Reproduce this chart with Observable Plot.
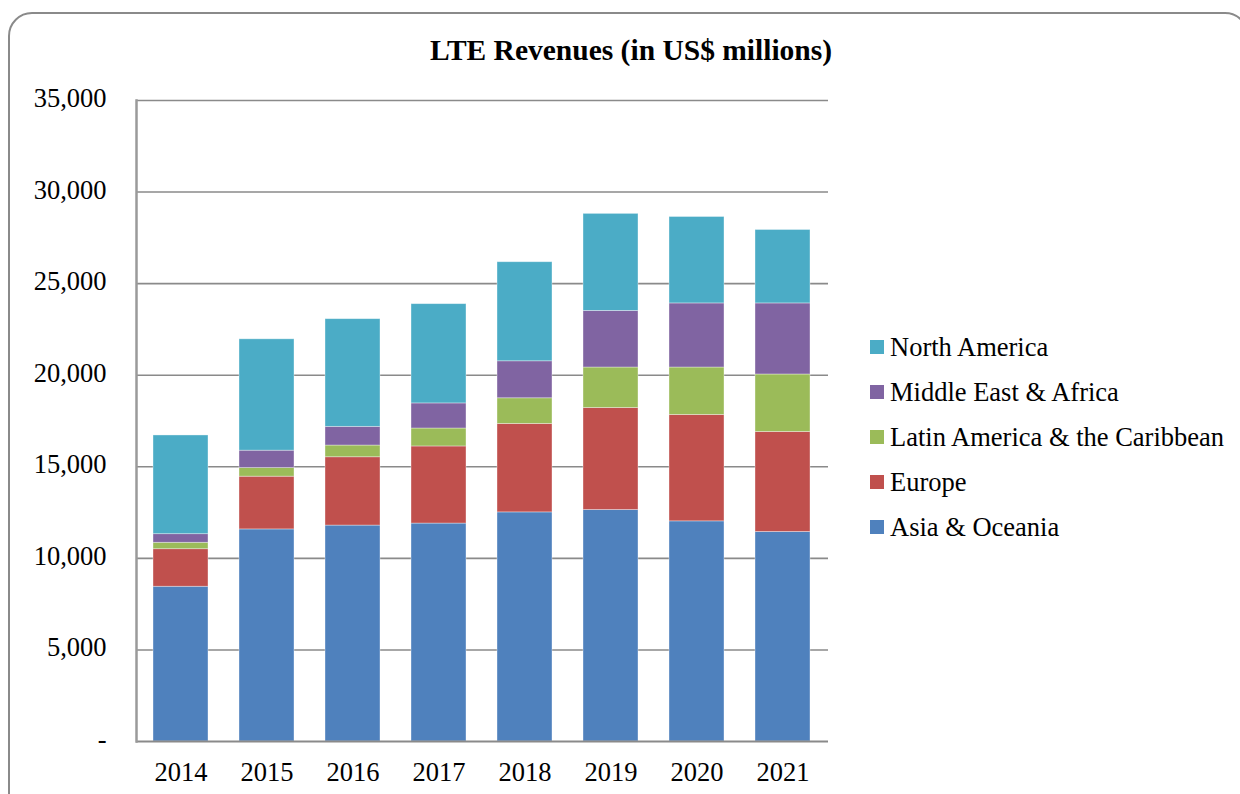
<!DOCTYPE html>
<html>
<head>
<meta charset="utf-8">
<script src="https://cdn.jsdelivr.net/npm/d3@7"></script>
<script src="https://cdn.jsdelivr.net/npm/@observablehq/plot@0.6"></script>
<style>
  html, body { margin: 0; padding: 0; background: #fff; }
  body { width: 1240px; height: 794px; position: relative; overflow: hidden; font-family: "Liberation Serif", "Times New Roman", serif; }
  #border { position: absolute; left: 8px; top: 12px; width: 1241px; height: 820px; border: 2px solid #8a8a8a; border-radius: 24px; box-sizing: border-box; }
  #title { position: absolute; left: 0; top: 32px; width: 1262px; text-align: center; font-weight: bold; font-size: 29.5px; line-height: 36px; color: #000; }
  #chart { position: absolute; left: 0; top: 0; }
  #legend { position: absolute; left: 870px; top: 331px; font-size: 26.5px; line-height: 32px; color: #000; }
  .li { height: 45px; display: flex; align-items: flex-start; }
  .sw { width: 14px; height: 14px; margin-top: 9px; margin-right: 6px; }
</style>
</head>
<body>
<div id="border"></div>
<div id="title">LTE Revenues (in US$ millions)</div>
<div id="chart"></div>
<div id="legend"></div>
<script>
const years = ["2014", "2015", "2016", "2017", "2018", "2019", "2020", "2021"];
const regions = ["Asia & Oceania", "Europe", "Latin America & the Caribbean", "Middle East & Africa", "North America"];
const colors = ["#4F81BD", "#C0504D", "#9BBB59", "#8064A2", "#4BACC6"];
const asiaOceania = [8450, 11580, 11790, 11900, 12510, 12640, 12020, 11440];
const europe = [2050, 2880, 3730, 4210, 4830, 5570, 5810, 5460];
const latinAmerica = [350, 470, 640, 980, 1400, 2210, 2590, 3140];
const middleEastAfrica = [470, 950, 1020, 1370, 2020, 3090, 3500, 3880];
const northAmerica = [5390, 6080, 5880, 5420, 5410, 5300, 4720, 4010];
const yTicks = [0, 5000, 10000, 15000, 20000, 25000, 30000, 35000];

const series = [asiaOceania, europe, latinAmerica, middleEastAfrica, northAmerica];
const data = [];
regions.forEach((r, i) => years.forEach((y, j) => data.push({ year: y, region: r, value: series[i][j] })));

const fmt = d3.format(",");
const chart = Plot.plot({
  width: 840,
  height: 794,
  marginLeft: 136,
  marginRight: 12,
  marginTop: 100,
  marginBottom: 53,
  style: { fontFamily: "Liberation Serif, Times New Roman, serif", fontSize: "26.5px", color: "#000", background: "transparent" },
  x: { domain: years, paddingInner: 0.36, paddingOuter: 0.17, label: null },
  y: { domain: [0, 35000], label: null },
  color: { domain: regions, range: colors },
  marks: [
    Plot.ruleY(yTicks.slice(1), { stroke: "#8a8a8a", strokeWidth: 1.6 }),
    Plot.barY(data, { x: "year", y: "value", z: "region", fill: "region", stroke: "#ffffff", strokeOpacity: 0.45, strokeWidth: 0.8, order: regions }),
    Plot.ruleY([0], { stroke: "#8a8a8a", strokeWidth: 2 }),
    Plot.frame({ anchor: "left", stroke: "#9a9a9a", strokeWidth: 2.5 }),
    Plot.axisY({ ticks: yTicks, tickSize: 0, tickPadding: 30, tickFormat: d => d === 0 ? "-" : fmt(d), fontSize: 26.5, fill: "#000", dy: -2 }),
    Plot.axisX({ tickSize: 0, tickPadding: 21, fontSize: 26.5, fill: "#000" })
  ]
});
document.getElementById("chart").appendChild(chart);

const legend = document.getElementById("legend");
regions.slice().reverse().forEach((r) => {
  const i = regions.indexOf(r);
  const row = document.createElement("div");
  row.className = "li";
  const sw = document.createElement("div");
  sw.className = "sw";
  sw.style.background = colors[i];
  const t = document.createElement("span");
  t.textContent = r;
  row.appendChild(sw);
  row.appendChild(t);
  legend.appendChild(row);
});
</script>
</body>
</html>
